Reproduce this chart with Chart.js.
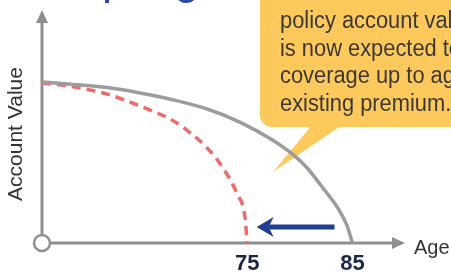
<!DOCTYPE html>
<html>
<head>
<meta charset="utf-8">
<script src="https://cdn.jsdelivr.net/npm/chart.js"></script>
<style>
  body { margin: 0; background: #fff; }
  #wrap { width: 451px; height: 275px; }
</style>
</head>
<body>
<div id="wrap"><canvas id="Chart"></canvas></div>
<script>
// ages shown on the x axis
const ageTicks = [75, 85];

// original projection (solid gray)
const oldAges = [55.5, 58.5, 61.7, 64.8, 68.0, 71.2, 74.3, 77.4, 79.4, 80.7, 82.2, 83.8, 84.5, 85.0];
const oldValues = [69.1, 68.0, 66.7, 64.4, 61.4, 57.5, 51.9, 44.2, 37.8, 32.2, 23.6, 13.7, 7.3, 0];

// new projection (dashed red)
const newAges = [55.5, 58.5, 61.7, 64.8, 68.0, 69.6, 71.2, 72.7, 74.0, 74.8, 75.0];
const newValues = [68.7, 67.0, 63.9, 58.8, 52.4, 47.2, 40.8, 32.2, 21.5, 10.7, 0];

// blue arrow, from age/value to age/value
const arrowFrom = [83.3, 6.9];
const arrowTo = [75.9, 6.9];

const calloutLines = [
  "policy account value",
  "is now expected to provide",
  "coverage up to age 75 at the",
  "existing premium.",
];

const AXIS = "#8f8f8f";
const FONT = "'Liberation Sans', Arial, sans-serif";

function toPoints(xs, ys) {
  return xs.map((x, i) => ({ x: x, y: ys[i] }));
}

// axes, heading fragment and callout go behind the curves
const decor = {
  id: "decor",
  beforeDatasetsDraw(chart) {
    const ctx = chart.ctx;
    const xs = chart.scales.x;
    const ys = chart.scales.y;
    const x0 = xs.getPixelForValue(xs.min);
    const x1 = xs.getPixelForValue(xs.max);
    const y0 = ys.getPixelForValue(0);
    const y1 = ys.getPixelForValue(ys.max);
    ctx.save();

    // heading that is cut off at the top
    ctx.fillStyle = "#2a48a4";
    ctx.font = "45px " + FONT;
    ctx.textBaseline = "alphabetic";
    ctx.fillText("Adapting", 22, -6);

    // axes
    ctx.strokeStyle = AXIS;
    ctx.fillStyle = AXIS;
    ctx.lineWidth = 3;
    ctx.beginPath();
    ctx.moveTo(x0, y0);
    ctx.lineTo(x0, y1 + 10);
    ctx.moveTo(x0, y0);
    ctx.lineTo(x1 - 10, y0);
    ctx.stroke();
    ctx.beginPath();
    ctx.moveTo(x0, y1);
    ctx.lineTo(x0 - 6, y1 + 13);
    ctx.lineTo(x0 + 6, y1 + 13);
    ctx.closePath();
    ctx.fill();
    ctx.beginPath();
    ctx.moveTo(x1, y0);
    ctx.lineTo(x1 - 13, y0 - 6);
    ctx.lineTo(x1 - 13, y0 + 6);
    ctx.closePath();
    ctx.fill();

    // y axis name
    ctx.fillStyle = "#333";
    ctx.font = "21px " + FONT;
    ctx.textAlign = "center";
    ctx.textBaseline = "middle";
    ctx.save();
    ctx.translate(16, 134);
    ctx.rotate(-Math.PI / 2);
    ctx.fillText("Account Value", 0, 0);
    ctx.restore();
    ctx.textAlign = "left";

    // callout bubble
    ctx.fillStyle = "#fdc95c";
    ctx.beginPath();
    ctx.roundRect(260, -20, 220, 147, 12);
    ctx.fill();
    ctx.beginPath();
    ctx.moveTo(312, 125);
    ctx.lineTo(273, 172);
    ctx.lineTo(342, 125);
    ctx.closePath();
    ctx.fill();

    ctx.fillStyle = "#3b3833";
    ctx.font = "23px " + FONT;
    ctx.textBaseline = "alphabetic";
    calloutLines.forEach((t, i) => {
      ctx.save();
      ctx.translate(280, 28 + i * 27.5);
      ctx.scale(0.95, 1);
      ctx.fillText(t, 0, 0);
      ctx.restore();
    });
    ctx.restore();
  },
  afterDatasetsDraw(chart) {
    const ctx = chart.ctx;
    const xs = chart.scales.x;
    const ys = chart.scales.y;
    const x0 = xs.getPixelForValue(xs.min);
    const x1 = xs.getPixelForValue(xs.max);
    const y0 = ys.getPixelForValue(0);
    ctx.save();

    // blue arrow
    const ax = xs.getPixelForValue(arrowFrom[0]);
    const ay = ys.getPixelForValue(arrowFrom[1]);
    const bx = xs.getPixelForValue(arrowTo[0]);
    const by = ys.getPixelForValue(arrowTo[1]);
    ctx.strokeStyle = "#213f91";
    ctx.fillStyle = "#213f91";
    ctx.lineWidth = 5;
    ctx.beginPath();
    ctx.moveTo(ax, ay);
    ctx.lineTo(bx + 12, by);
    ctx.stroke();
    ctx.beginPath();
    ctx.moveTo(bx, by);
    ctx.lineTo(bx + 17, by - 10);
    ctx.lineTo(bx + 12, by);
    ctx.lineTo(bx + 17, by + 10);
    ctx.closePath();
    ctx.fill();

    // origin circle
    ctx.fillStyle = "#fff";
    ctx.strokeStyle = AXIS;
    ctx.lineWidth = 2.5;
    ctx.beginPath();
    ctx.arc(x0, y0, 8, 0, Math.PI * 2);
    ctx.fill();
    ctx.stroke();

    // x axis name
    ctx.fillStyle = "#333";
    ctx.font = "20px " + FONT;
    ctx.textBaseline = "middle";
    ctx.fillText("Age", x1 + 9, y0 + 5);
    ctx.restore();
  },
};

chart = new Chart(document.getElementById("Chart"), {
  type: "line",
  data: {
    datasets: [
      {
        data: toPoints(oldAges, oldValues),
        borderColor: "#9c9c9c",
        borderWidth: 3.5,
        pointRadius: 0,
        cubicInterpolationMode: "monotone",
      },
      {
        data: toPoints(newAges, newValues),
        borderColor: "#ee6b6b",
        borderWidth: 3.5,
        borderDash: [9, 6],
        pointRadius: 0,
        cubicInterpolationMode: "monotone",
      },
    ],
  },
  options: {
    responsive: true,
    maintainAspectRatio: false,
    animation: false,
    layout: {
      padding: { top: 10, right: 46, bottom: 0, left: 0 },
    },
    scales: {
      x: {
        type: "linear",
        min: 55.5,
        max: 90,
        border: { display: false },
        grid: { display: false, drawTicks: false },
        afterBuildTicks: (axis) => {
          axis.ticks = ageTicks.map((v) => ({ value: v }));
        },
        afterFit: (scale) => {
          scale.height = 32;
        },
        ticks: {
          padding: 8,
          color: "#1b2745",
          font: { size: 22, weight: "bold", family: FONT },
        },
      },
      y: {
        min: 0,
        max: 100,
        border: { display: false },
        grid: { display: false, drawTicks: false },
        ticks: { display: false },
        afterFit: (scale) => {
          scale.width = 42;
        },
      },
    },
    plugins: {
      legend: { display: false },
      tooltip: { enabled: false },
    },
  },
  plugins: [decor],
});
</script>
</body>
</html>
